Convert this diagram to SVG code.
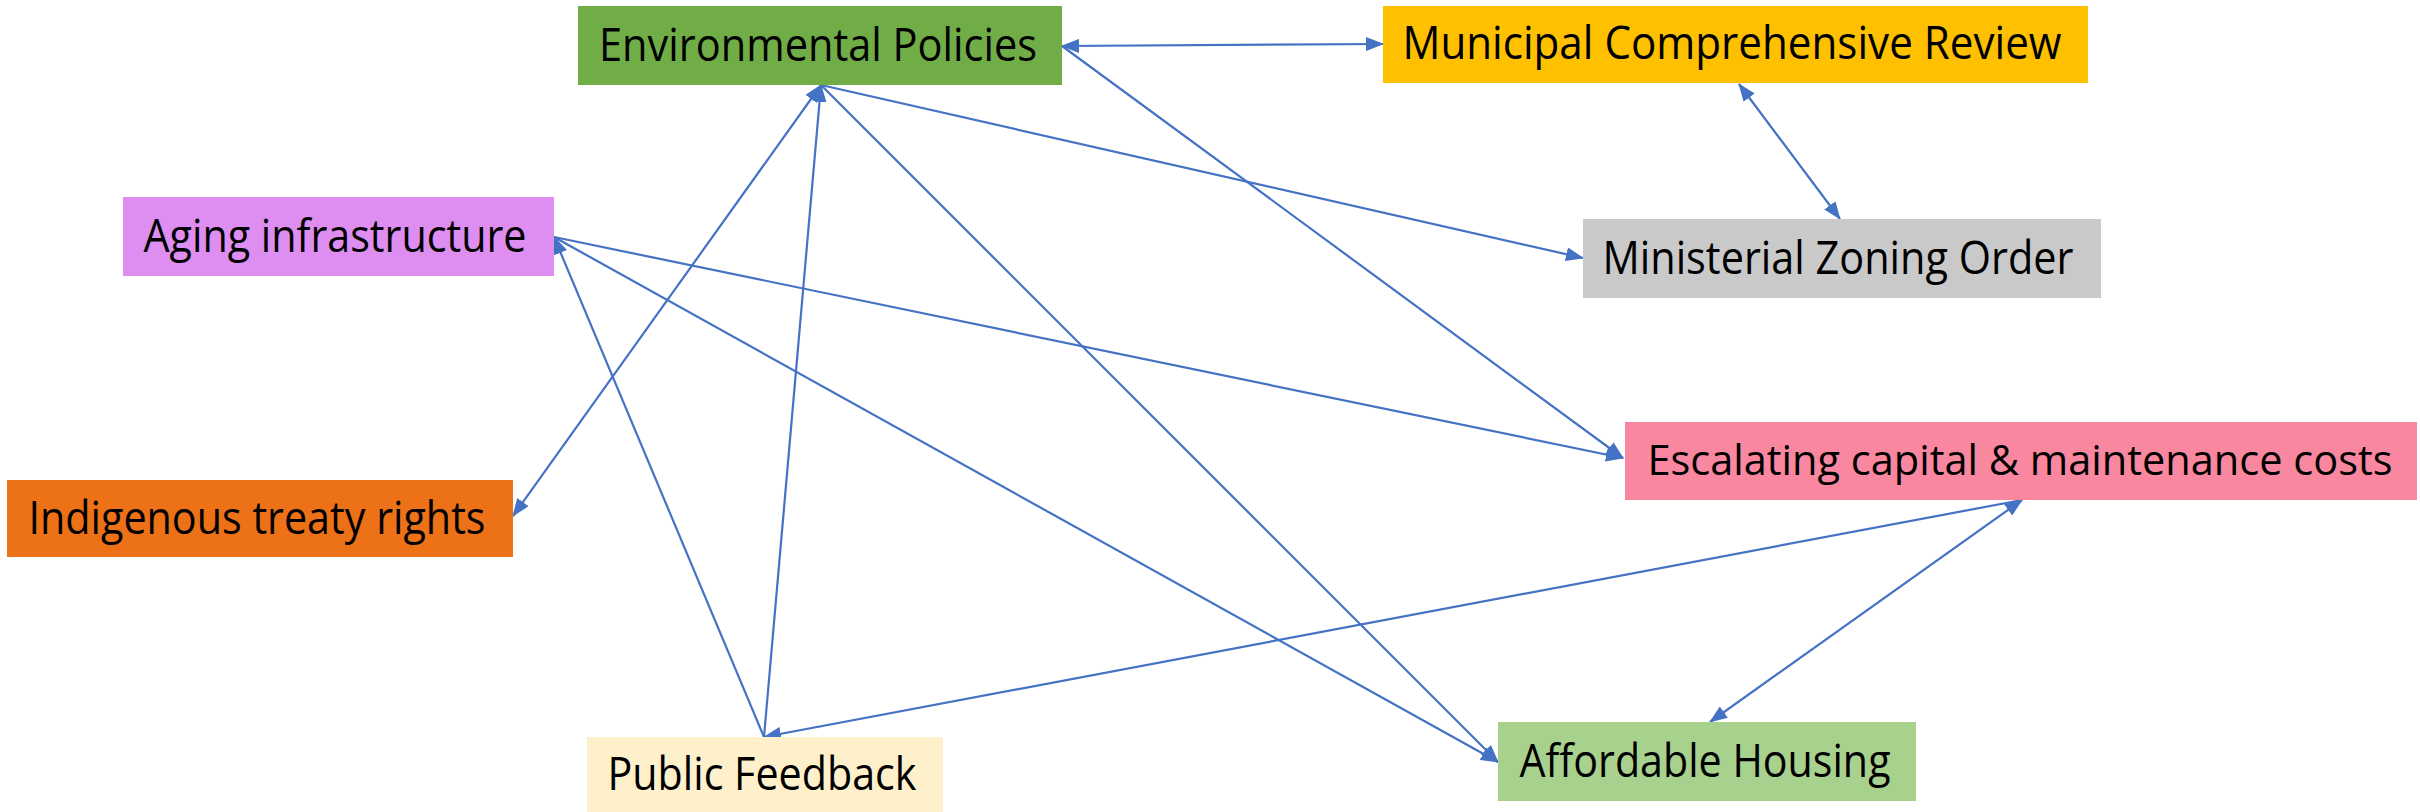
<svg xmlns="http://www.w3.org/2000/svg" width="2420" height="812" viewBox="0 0 2420 812">
<style>
.lbl{font-family:"Open Sans","Noto Sans","DejaVu Sans",sans-serif;font-size:45px;fill:#000;text-anchor:middle}
.c{stroke:#4472C4;stroke-width:2.2;fill:none}
</style>
<defs>
<marker id="ah" markerUnits="userSpaceOnUse" viewBox="0 0 18 14" markerWidth="18" markerHeight="14" refX="17" refY="7" orient="auto-start-reverse">
<path d="M0,0 L18,7 L0,14 z" fill="#4472C4"/>
</marker>
</defs>
<rect width="2420" height="812" fill="#fff"/>
<g id="connectors">
<line class="c" x1="1062" y1="46" x2="1383" y2="44" marker-start="url(#ah)" marker-end="url(#ah)"/>
<line class="c" x1="1739" y1="84" x2="1840" y2="219" marker-start="url(#ah)" marker-end="url(#ah)"/>
<line class="c" x1="821" y1="85" x2="1583" y2="258" marker-end="url(#ah)"/>
<line class="c" x1="1062" y1="46" x2="1623" y2="458" marker-end="url(#ah)"/>
<line class="c" x1="554" y1="237" x2="1623" y2="458" marker-end="url(#ah)"/>
<line class="c" x1="554" y1="237" x2="1498" y2="762" marker-end="url(#ah)"/>
<line class="c" x1="821" y1="85" x2="1498" y2="762" marker-end="url(#ah)"/>
<line class="c" x1="821" y1="85" x2="513" y2="516" marker-start="url(#ah)" marker-end="url(#ah)"/>
<line class="c" x1="764" y1="737" x2="821" y2="85" marker-end="url(#ah)"/>
<line class="c" x1="764" y1="737" x2="554" y2="237" marker-end="url(#ah)"/>
<line class="c" x1="2022" y1="500" x2="764" y2="737" marker-end="url(#ah)"/>
<line class="c" x1="2022" y1="500" x2="1710" y2="722" marker-start="url(#ah)" marker-end="url(#ah)"/>
</g>
<g id="env">
<rect x="578" y="6" width="484" height="79" fill="#70AD47"/>
<text class="lbl" x="818" y="61" textLength="438" lengthAdjust="spacingAndGlyphs">Environmental Policies</text>
</g>
<g id="municipal">
<rect x="1383" y="6" width="705" height="77" fill="#FFC000"/>
<text class="lbl" x="1732" y="59" textLength="659" lengthAdjust="spacingAndGlyphs">Municipal Comprehensive Review</text>
</g>
<g id="ministerial">
<rect x="1583" y="219" width="518" height="79" fill="#C9C9C9"/>
<text class="lbl" x="1838" y="274" textLength="471" lengthAdjust="spacingAndGlyphs">Ministerial Zoning Order</text>
</g>
<g id="aging">
<rect x="123" y="197" width="431" height="79" fill="#DD8EF0"/>
<text class="lbl" x="335" y="252" textLength="383" lengthAdjust="spacingAndGlyphs">Aging infrastructure</text>
</g>
<g id="escalating">
<rect x="1625" y="422" width="792" height="78" fill="#F9879F"/>
<text class="lbl" x="2020" y="475" style="font-size:42px" textLength="745" lengthAdjust="spacingAndGlyphs">Escalating capital &amp; maintenance costs</text>
</g>
<g id="indigenous">
<rect x="7" y="480" width="506" height="77" fill="#ED7117"/>
<text class="lbl" x="257" y="534" textLength="457" lengthAdjust="spacingAndGlyphs">Indigenous treaty rights</text>
</g>
<g id="public">
<rect x="587" y="737" width="356" height="75" fill="#FFF0CC"/>
<text class="lbl" x="762" y="790" textLength="309" lengthAdjust="spacingAndGlyphs">Public Feedback</text>
</g>
<g id="affordable">
<rect x="1498" y="722" width="418" height="79" fill="#A9D18E"/>
<text class="lbl" x="1705" y="777" textLength="371" lengthAdjust="spacingAndGlyphs">Affordable Housing</text>
</g>
</svg>
